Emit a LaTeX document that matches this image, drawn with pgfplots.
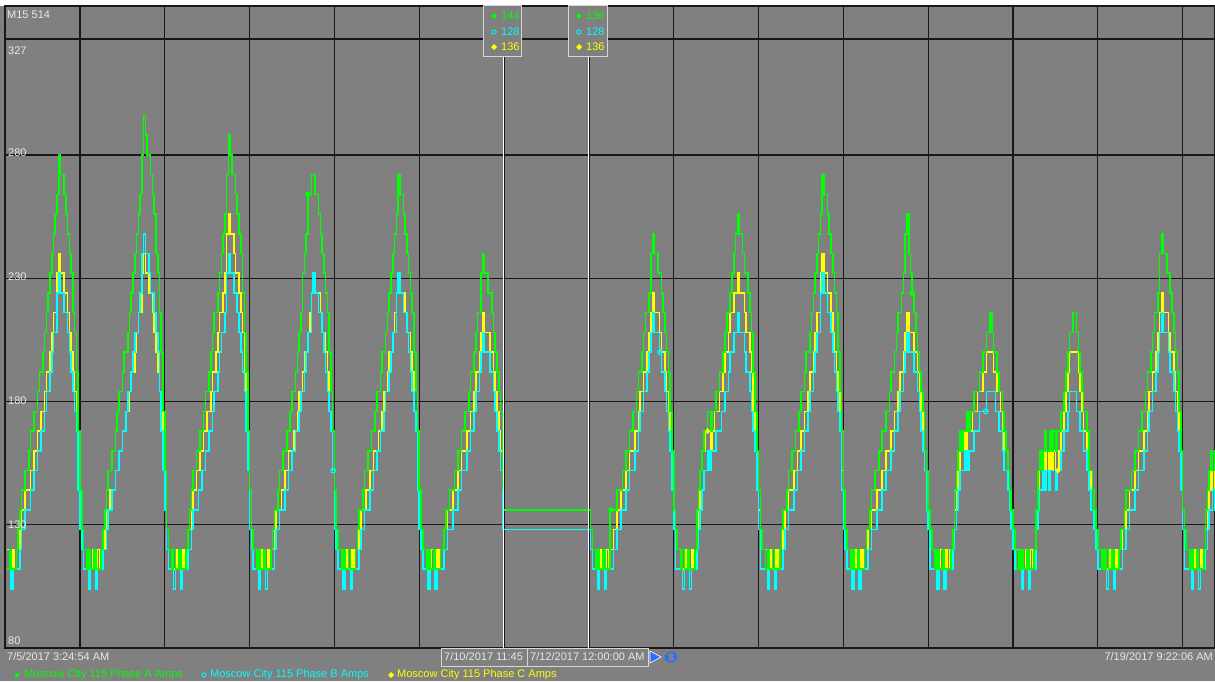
\documentclass[border=0pt]{standalone}
\usepackage{pgfplots}
\pgfplotsset{compat=1.18}
\usepackage{pgfplotstable}
\usepackage{fontspec}
\setmainfont{Liberation Sans}

\definecolor{bg}{RGB}{128,128,128}
\definecolor{gridc}{RGB}{24,24,24}
\definecolor{lbl}{RGB}{232,232,232}
\definecolor{boxc}{RGB}{214,214,214}
\definecolor{phA}{RGB}{0,255,0}
\definecolor{phB}{RGB}{0,255,255}
\definecolor{phC}{RGB}{255,255,0}
\definecolor{navblue}{RGB}{40,110,255}

% Phase currents (A), hours counted from 7/5/2017 00:00
\pgfplotstableread{
t A B C
3.42 112 112 120
4 120 112 112
4.5 112 104 112
5 112 112 120
5.5 112 112 112
6 120 112 120
6.5 128 112 120
7 136 120 128
7.5 144 128 136
8 144 128 136
8.5 152 136 144
9 152 136 144
9.5 160 136 144
10 168 144 152
10.5 168 144 152
11 176 152 160
11.5 176 152 160
12 184 160 168
12.5 192 160 168
13 192 168 176
13.5 200 168 176
14 208 176 184
14.5 216 184 192
15 224 184 192
15.5 232 192 200
16 240 200 208
16.5 248 208 216
17 256 208 216
17.5 264 224 232
18 280 232 240
18.5 272 224 232
19 272 224 232
19.5 264 216 224
20 256 216 224
20.5 248 208 216
21 240 200 208
21.5 232 192 200
22 216 184 192
22.5 208 176 184
23 192 168 176
23.5 168 144 152
24 144 128 136
24.5 128 120 128
25 120 112 120
25.5 120 112 120
26 112 112 120
26.5 120 104 112
27 112 112 112
27.5 112 112 120
28 120 112 112
28.5 112 104 112
29 112 112 120
29.5 112 112 112
30 120 112 120
30.5 128 120 120
31 136 120 128
31.5 144 128 136
32 152 136 136
32.5 152 136 144
33 160 144 144
33.5 160 144 144
34 168 152 152
34.5 176 152 152
35 184 160 160
35.5 184 160 160
36 192 168 168
36.5 200 168 168
37 200 176 176
37.5 208 184 176
38 216 184 184
38.5 224 192 192
39 232 200 192
39.5 240 208 200
40 248 208 208
40.5 256 216 216
41 264 224 216
41.5 280 240 232
42 296 248 240
42.5 288 240 232
43 280 240 232
43.5 280 232 224
44 272 224 224
44.5 264 224 216
45 256 216 208
45.5 240 208 200
46 232 200 192
46.5 216 184 184
47 200 168 176
47.5 176 152 152
48 152 136 136
48.5 128 120 128
49 120 112 120
49.5 120 112 120
50 112 112 120
50.5 120 104 112
51 112 112 112
51.5 112 112 120
52 120 112 112
52.5 112 104 112
53 112 112 120
53.5 112 112 112
54 120 112 120
54.5 128 120 128
55 136 120 128
55.5 144 128 136
56 152 136 144
56.5 152 136 144
57 160 136 152
57.5 160 144 152
58 168 144 160
58.5 168 152 160
59 176 152 168
59.5 184 160 168
60 184 160 176
60.5 192 168 176
61 200 168 184
61.5 208 176 192
62 216 184 192
62.5 216 184 200
63 224 192 208
63.5 232 200 216
64 240 208 216
64.5 248 208 224
65 256 216 232
65.5 272 232 248
66 288 240 256
66.5 280 232 248
67 272 232 248
67.5 272 224 240
68 264 224 232
68.5 256 216 232
69 248 208 224
69.5 240 200 216
70 224 192 208
70.5 208 184 192
71 192 168 176
71.5 168 152 160
72 144 128 144
72.5 128 120 128
73 120 112 120
73.5 120 112 120
74 112 112 120
74.5 120 104 112
75 112 112 112
75.5 112 112 120
76 120 112 112
76.5 112 104 112
77 112 112 120
77.5 112 112 112
78 120 112 120
78.5 128 112 120
79 136 120 128
79.5 136 128 136
80 144 128 136
80.5 152 136 136
81 152 136 144
81.5 160 136 144
82 160 144 152
82.5 168 144 152
83 168 152 160
83.5 176 152 160
84 184 160 160
84.5 184 160 168
85 192 168 168
85.5 200 168 176
86 208 176 184
86.5 216 184 184
87 232 184 192
87.5 240 192 200
88 248 200 200
88.5 264 208 208
89 264 208 216
89.5 272 224 224
90 272 232 232
90.5 264 224 224
91 264 224 224
91.5 256 216 224
92 248 216 216
92.5 240 208 208
93 232 200 208
93.5 224 192 200
94 216 184 192
94.5 200 176 176
95 184 168 168
95.5 168 152 152
96 144 128 136
96.5 128 120 128
97 120 112 120
97.5 120 112 120
98 112 112 120
98.5 120 104 112
99 112 112 112
99.5 112 112 120
100 120 112 112
100.5 112 104 112
101 112 112 120
101.5 112 112 112
102 120 112 120
102.5 128 112 120
103 136 120 128
103.5 136 128 136
104 144 128 136
104.5 152 136 136
105 152 136 144
105.5 160 136 144
106 160 144 152
106.5 168 144 152
107 168 152 160
107.5 176 152 160
108 184 160 160
108.5 184 160 168
109 192 168 168
109.5 200 168 176
110 200 176 184
110.5 208 184 184
111 216 184 192
111.5 224 192 200
112 232 200 200
112.5 240 208 208
113 248 208 216
113.5 256 224 224
114 272 232 232
114.5 264 224 224
115 264 224 224
115.5 256 216 224
116 248 216 216
116.5 240 208 208
117 232 200 208
117.5 224 192 200
118 216 184 192
118.5 200 176 176
119 184 168 168
119.5 168 144 152
120 144 128 136
120.5 128 120 128
121 120 112 120
121.5 120 112 120
122 112 112 120
122.5 120 104 112
123 112 112 112
123.5 112 112 120
124 120 112 112
124.5 112 104 112
125 112 112 120
125.5 112 112 112
126 120 112 120
126.5 120 112 120
127 128 120 128
127.5 136 120 128
128 136 128 136
128.5 144 128 136
129 144 128 136
129.5 144 136 144
130 152 136 144
130.5 152 136 144
131 160 144 152
131.5 160 144 152
132 168 152 160
132.5 168 152 160
133 176 152 160
133.5 176 160 168
134 184 160 168
134.5 192 168 176
135 192 168 176
135.5 200 176 184
136 208 184 192
136.5 216 184 192
137 216 192 200
137.5 232 200 208
138 240 208 216
138.5 232 200 208
139 232 200 208
139.5 224 200 208
140 224 192 200
140.5 216 192 200
141 208 184 192
141.5 200 176 184
142 192 168 176
142.5 184 160 168
143 176 152 160
143.5 152 136 144
143.75 144 128 136
143.85 136 128 136
168 136 128 136
168.5 128 120 128
169 120 112 120
169.5 120 112 120
170 112 112 120
170.5 120 104 112
171 112 112 112
171.5 112 112 120
172 120 112 112
172.5 112 104 112
173 112 112 120
173.5 112 112 112
174 136 112 120
174.5 136 112 120
175 136 120 128
175.5 136 120 128
176 144 128 136
176.5 144 128 136
177 144 136 144
177.5 152 136 144
178 152 136 144
178.5 160 144 152
179 160 144 152
179.5 168 152 160
180 168 152 160
180.5 176 152 160
181 176 160 168
181.5 184 160 168
182 192 168 176
182.5 192 176 184
183 200 176 184
183.5 208 184 192
184 216 184 192
184.5 216 192 200
185 224 200 208
185.5 240 208 216
186 248 216 224
186.5 240 208 216
187 240 208 216
187.5 232 208 216
188 232 200 208
188.5 224 192 200
189 216 192 200
189.5 208 184 192
190 200 176 184
190.5 192 168 176
191 176 160 168
191.5 160 144 152
192 136 128 136
192.5 128 112 120
193 120 112 120
193.5 120 112 120
194 112 112 120
194.5 120 104 112
195 112 112 112
195.5 112 112 120
196 120 112 112
196.5 112 104 112
197 112 112 120
197.5 112 112 112
198 120 112 120
198.5 136 120 128
199 144 128 136
199.5 152 136 152
200 160 144 160
200.5 168 152 160
201 168 152 168
201.5 176 160 168
202 176 152 168
202.5 168 160 160
203 176 160 168
203.5 176 160 176
204 184 168 176
204.5 184 168 176
205 192 168 184
205.5 192 176 184
206 200 176 192
206.5 208 184 200
207 216 184 200
207.5 216 192 208
208 224 200 216
208.5 232 200 216
209 240 208 224
209.5 248 208 224
210 256 216 232
210.5 248 208 224
211 248 208 224
211.5 240 208 224
212 232 200 216
212.5 232 192 208
213 224 192 208
213.5 216 184 200
214 208 176 192
214.5 192 168 176
215 176 160 168
215.5 160 144 152
216 144 128 136
216.5 128 112 128
217 120 112 120
217.5 120 112 120
218 112 112 120
218.5 120 104 112
219 112 112 112
219.5 112 112 120
220 120 112 112
220.5 112 104 112
221 112 112 120
221.5 112 112 112
222 120 112 120
222.5 128 112 120
223 136 120 128
223.5 136 128 136
224 144 128 136
224.5 152 136 144
225 152 136 144
225.5 160 136 144
226 160 144 152
226.5 168 144 152
227 168 152 160
227.5 176 152 160
228 184 160 168
228.5 184 160 168
229 192 168 176
229.5 200 168 176
230 200 176 184
230.5 208 184 192
231 216 184 192
231.5 224 192 200
232 232 200 208
232.5 240 208 216
233 248 208 216
233.5 256 224 232
234 272 232 240
234.5 264 224 232
235 264 224 232
235.5 256 216 224
236 248 216 224
236.5 240 208 216
237 232 200 208
237.5 224 192 200
238 216 184 192
238.5 200 176 184
239 184 168 176
239.5 168 144 152
240 144 128 136
240.5 128 120 128
241 120 112 120
241.5 120 112 120
242 112 112 120
242.5 120 104 112
243 112 112 112
243.5 112 112 120
244 120 112 112
244.5 112 104 112
245 112 112 120
245.5 112 112 112
246 120 112 120
246.5 128 112 120
247 128 120 128
247.5 136 120 128
248 144 128 136
248.5 144 128 136
249 152 128 136
249.5 152 136 144
250 160 136 144
250.5 160 136 144
251 168 144 152
251.5 168 144 152
252 176 152 160
252.5 176 152 160
253 184 152 160
253.5 192 160 168
254 192 160 168
254.5 200 168 176
255 208 168 176
255.5 216 176 184
256 216 184 192
256.5 224 184 192
257 232 192 200
257.5 248 200 208
258 256 208 216
258.5 240 200 208
259 232 200 208
259.5 224 200 208
260 216 192 200
260.5 208 192 200
261 200 184 192
261.5 192 176 184
262 184 168 176
262.5 176 160 168
263 160 152 160
263.5 152 136 144
264 136 128 136
264.5 128 112 120
265 120 112 120
265.5 120 112 120
266 112 112 120
266.5 120 104 112
267 112 112 112
267.5 112 112 120
268 120 112 112
268.5 112 104 112
269 112 112 120
269.5 112 112 112
270 112 112 120
270.5 120 112 120
271 128 120 128
271.5 144 128 136
272 152 136 144
272.5 160 144 152
273 168 152 160
273.5 160 152 160
274 168 152 168
274.5 168 160 160
275 176 152 168
275.5 168 160 168
276 176 160 168
276.5 176 160 176
277 184 168 176
277.5 184 168 176
278 184 168 184
278.5 192 176 184
279 192 176 184
279.5 200 176 192
280 200 176 192
280.5 208 184 200
281 208 184 200
281.5 216 184 200
282 208 184 200
282.5 200 184 192
283 200 176 192
283.5 192 176 184
284 184 168 184
284.5 184 168 176
285 176 160 168
285.5 168 152 160
286 160 152 160
286.5 152 144 152
287 144 136 144
287.5 136 128 136
288 128 120 128
288.5 120 112 120
289 112 112 120
289.5 120 112 120
290 112 112 120
290.5 120 104 112
291 112 112 112
291.5 112 112 120
292 120 112 112
292.5 112 104 112
293 112 112 120
293.5 112 112 112
294 120 112 120
294.5 136 128 136
295 152 136 144
295.5 160 144 152
296 152 144 152
296.5 160 152 160
297 168 144 152
297.5 160 152 160
298 160 144 152
298.5 168 152 160
299 160 152 152
299.5 168 152 160
300 160 144 152
300.5 168 152 152
301 168 152 160
301.5 176 160 168
302 176 160 168
302.5 184 168 176
303 192 168 184
303.5 200 176 192
304 208 184 200
304.5 208 184 200
305 216 184 200
305.5 216 184 200
306 208 176 200
306.5 200 176 192
307 192 168 184
307.5 184 168 176
308 176 160 168
308.5 176 160 168
309 168 152 160
309.5 152 144 152
310 152 136 144
310.5 144 136 144
311 136 128 136
311.5 128 120 128
312 120 112 120
312.5 120 112 120
313 112 112 112
313.5 120 112 120
314 112 112 120
314.5 120 104 112
315 112 112 112
315.5 112 112 120
316 120 112 112
316.5 112 104 112
317 112 112 120
317.5 112 112 112
318 120 112 120
318.5 128 112 120
319 128 120 128
319.5 136 120 128
320 144 128 136
320.5 144 128 136
321 144 136 144
321.5 152 136 144
322 152 136 144
322.5 160 144 152
323 160 144 152
323.5 168 152 160
324 168 152 160
324.5 176 152 160
325 176 160 168
325.5 184 160 168
326 192 168 176
326.5 192 176 184
327 200 176 184
327.5 208 184 192
328 216 184 192
328.5 216 192 200
329 224 200 208
329.5 240 208 216
330 248 216 224
330.5 240 208 216
331 240 208 216
331.5 232 208 216
332 232 200 208
332.5 224 192 200
333 216 192 200
333.5 208 184 192
334 200 176 184
334.5 192 168 176
335 176 160 168
335.5 160 144 152
336 136 128 136
336.5 128 112 120
337 120 112 120
337.5 120 112 120
338 112 112 120
338.5 120 104 112
339 112 112 112
339.5 112 112 120
340 120 112 112
340.5 112 104 112
341 112 112 120
341.5 112 112 112
342 120 112 120
342.5 136 120 128
343 144 128 136
343.5 152 136 144
344 160 136 152
344.5 152 144 144
345 160 136 152
345.37 160 136 152
}\amps

\tikzset{every node/.style={font=\fontsize{11}{13}\selectfont, inner sep=0pt}}

\begin{document}
\begin{tikzpicture}[x=1pt,y=1pt]
\useasboundingbox (0,0) rectangle (1215,681);
\fill[bg] (0,0) rectangle (1215,681);
\fill[white] (0,675) rectangle (1215,681);

\begin{axis}[
  at={(5pt,33pt)}, anchor=south west,
  scale only axis, width=1210pt, height=642pt,
  xmin=2.78, xmax=345.17, ymin=80, ymax=340.4,
  axis background/.style={fill=bg},
  xtick={24,48,72,96,120,144,168,192,216,240,264,288,312,336},
  ytick={130,180,230,280,327},
  xticklabels={}, yticklabels={},
  major tick length=0pt,
  xmajorgrids, ymajorgrids,
  major grid style={draw=gridc, line width=1.3pt},
  axis line style={draw=gridc, line width=1.3pt},
]
\addplot[draw=phC, const plot, line width=1.6pt] table[x=t, y=C] {\amps};
\addplot[draw=phB, const plot, line width=1.6pt] table[x=t, y=B] {\amps};
\addplot[draw=phA, const plot, line width=1.6pt] table[x=t, y=A] {\amps};
% sample markers along each phase
\addplot[only marks, mark=*, mark size=2.6pt, phA] coordinates {(88.5,264) (174.3,136) (259.4,224)};
\addplot[only marks, mark=o, mark size=2.4pt, phB, line width=1pt] coordinates {(95.6,152) (188.1,200) (280.3,176)};
\addplot[only marks, mark=diamond*, mark size=2.8pt, phC] coordinates {(201.6,168) (300.7,152)};
\coordinate (cur1) at (axis cs:143.75,80);
\coordinate (cur2) at (axis cs:168,80);
\end{axis}

% value axis labels, drawn inside the plot area
\node[anchor=north west, text=lbl] at (8,634) {327};
\node[anchor=west, text=lbl] at (8,528) {280};
\node[anchor=west, text=lbl] at (8,404) {230};
\node[anchor=west, text=lbl] at (8,280) {180};
\node[anchor=west, text=lbl] at (8,156) {130};
\node[anchor=south west, text=lbl] at (8,36) {80};
\node[anchor=west, text=lbl] at (7,666) {M15 514};

% cursors
\draw[white, line width=1pt] (cur1 |- 0,624) -- (cur1);
\draw[white, line width=1pt] (cur2 |- 0,624) -- (cur2);
\draw[boxc, fill=bg, line width=1pt] (483,624) rectangle (521,675);
\draw[boxc, fill=bg, line width=1pt] (568,624) rectangle (607,675);
\fill[phA] (494,665) circle (2.4);
\draw[phB, line width=0.9pt] (494,649) circle (2.2);
\fill[phC] (494,637) -- (497,634) -- (494,631) -- (491,634) -- cycle;
\node[anchor=west, text=phA] at (501,665) {144};
\node[anchor=west, text=phB] at (501,649) {128};
\node[anchor=west, text=phC] at (501,634) {136};
\fill[phA] (579,665) circle (2.4);
\draw[phB, line width=0.9pt] (579,649) circle (2.2);
\fill[phC] (579,637) -- (582,634) -- (579,631) -- (576,634) -- cycle;
\node[anchor=west, text=phA] at (586,665) {136};
\node[anchor=west, text=phB] at (586,649) {128};
\node[anchor=west, text=phC] at (586,634) {136};

% time range labels
\node[anchor=west, text=lbl] at (7,24) {7/5/2017 3:24:54 AM};
\node[anchor=east, text=lbl] at (1213,24) {7/19/2017 9:22:06 AM};
\draw[boxc, line width=1pt] (441,15) rectangle (527,33);
\node[anchor=west, text=lbl] at (444,24) {7/10/2017 11:45};
\draw[boxc, line width=1pt] (527,15) rectangle (648,33);
\node[anchor=west, text=lbl] at (530,24) {7/12/2017 12:00:00 AM};
\fill[navblue, draw=white, line width=0.6pt] (650,30) -- (661,24) -- (650,18) -- cycle;
\draw[navblue, line width=1.6pt] (671,24) ++(20:5) arc (20:160:5);
\draw[navblue, line width=1.6pt] (671,24) ++(200:5) arc (200:340:5);
\fill[navblue] (676.5,27) -- (677.5,21.5) -- (672.5,24) -- cycle;
\fill[navblue] (665.5,21) -- (664.5,26.5) -- (669.5,24) -- cycle;

% legend
\fill[phA] (17,6) circle (2.2);
\node[anchor=west, text=phA] at (24,6) {Moscow City 115 Phase A Amps};
\draw[phB, line width=0.9pt] (204,6) circle (2.1);
\node[anchor=west, text=phB] at (210,6) {Moscow City 115 Phase B Amps};
\fill[phC] (391,9) -- (394,6) -- (391,3) -- (388,6) -- cycle;
\node[anchor=west, text=phC] at (397,6) {Moscow City 115 Phase C Amps};
\end{tikzpicture}
\end{document}
